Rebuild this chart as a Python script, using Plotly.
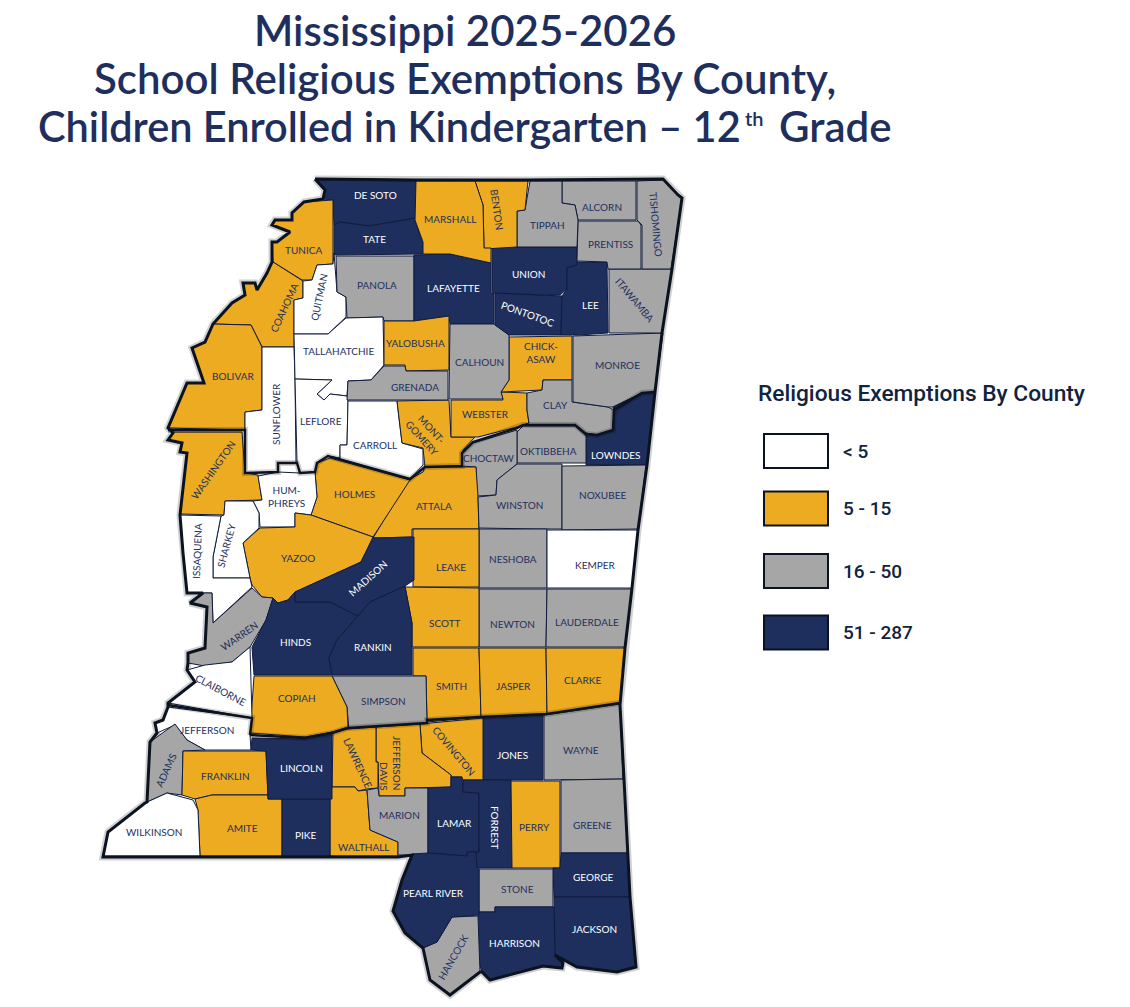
import plotly.graph_objects as go

# exemption classes, one list of counties per legend entry
LEGEND_TITLE = "Religious Exemptions By County"
LEGEND_LABELS = ["< 5", "5 - 15", "16 - 50", "51 - 287"]
BIN_COLORS = ["#FFFFFF", "#ECAB21", "#A6A6A6", "#1E2F5E"]

UNDER_5 = ["Quitman", "Tallahatchie", "Sunflower", "Leflore", "Carroll", "Humphreys", "Sharkey",
           "Issaquena", "Kemper", "Claiborne", "Jefferson", "Wilkinson"]
FROM_5 = ["Tunica", "Coahoma", "Bolivar", "Washington", "Marshall", "Benton", "Yalobusha", "Chickasaw",
          "Webster", "Montgomery", "Holmes", "Attala", "Yazoo", "Leake", "Scott", "Smith", "Jasper",
          "Clarke", "Copiah", "Covington", "Jefferson Davis", "Lawrence", "Walthall", "Franklin",
          "Amite", "Perry"]
FROM_16 = ["Tippah", "Alcorn", "Prentiss", "Tishomingo", "Panola", "Itawamba", "Calhoun", "Monroe",
           "Grenada", "Clay", "Choctaw", "Oktibbeha", "Winston", "Noxubee", "Neshoba", "Newton",
           "Lauderdale", "Warren", "Simpson", "Wayne", "Greene", "Marion", "Adams", "Stone", "Hancock"]
FROM_51 = ["De Soto", "Tate", "Lafayette", "Union", "Pontotoc", "Lee", "Lowndes", "Madison", "Hinds",
           "Rankin", "Lincoln", "Pike", "Jones", "Lamar", "Forrest", "George", "Pearl River",
           "Harrison", "Jackson"]

# county outlines
COUNTY_SHAPES = {
    "De Soto": [(315,180),(416,181),(416,218),(369,226),(340,222),(334,225),(333,200),(323,199),(325,190)],
    "Tate": [(334,225),(340,222),(369,226),(416,218),(415,221),(423,242),(423,254),(334,255)],
    "Tunica": [(333,200),(304,202),(292,213),(292,220),(275,220),(272,225),(290,232),(277,242),(272,242),
               (273,262),(302,280),(312,280),(317,265),(333,264)],
    "Coahoma": [(273,262),(302,280),(303,281),(303,298),(294,300),(294,347),(262,347),(251,325),(213,324),
                (232,303),(245,295),(243,283),(255,283),(257,290),(267,273)],
    "Bolivar": [(213,324),(251,325),(262,347),(262,410),(245,412),(245,430),(168,428),(187,383),(204,383),
                (192,348),(205,342)],
    "Washington": [(173,432),(242,432),(245,473),(258,475),(262,500),(225,501),(224,515),(180,514),(187,453),
                   (180,452),(182,443),(168,440)],
    "Sunflower": [(262,347),(294,347),(295,379),(296,463),(278,463),(278,472),(245,473),(245,412),(262,410)],
    "Quitman": [(317,265),(333,264),(334,253),(337,292),(346,297),(346,317),(328,334),(294,334),(294,300),
                (303,298),(303,281),(312,280)],
    "Panola": [(336,256),(414,256),(414,321),(384,321),(383,317),(347,318),(346,297),(337,292)],
    "Tallahatchie": [(294,334),(328,334),(346,318),(383,317),(384,365),(371,380),(348,381),(347,396),(330,394),
                     (324,400),(317,394),(332,380),(295,379)],
    "Leflore": [(295,379),(332,380),(317,394),(324,400),(330,394),(347,396),(348,400),(347,445),(340,445),
                (340,458),(328,456),(317,463),(315,472),(300,473),(297,463)],
    "Carroll": [(348,401),(397,401),(402,443),(423,449),(423,465),(410,479),(340,459),(340,445),(347,445)],
    "Montgomery": [(397,401),(449,400),(451,437),(475,437),(463,450),(462,466),(425,467),(423,448),(402,443)],
    "Webster": [(451,400),(503,400),(501,392),(527,393),(527,410),(529,423),(517,427),(478,437),(451,437)],
    "Chickasaw": [(509,337),(572,336),(572,380),(543,380),(542,390),(501,392),(509,380)],
    "Clay": [(527,393),(542,390),(543,380),(572,380),(572,402),(608,407),(614,410),(613,430),(597,435),
             (585,433),(575,425),(523,425),(529,423),(527,410)],
    "Monroe": [(573,336),(663,333),(655,392),(642,393),(613,407),(608,407),(573,402)],
    "Lowndes": [(655,392),(642,393),(613,407),(614,410),(613,430),(597,435),(586,433),(586,465),(647,465)],
    "Oktibbeha": [(517,432),(523,426),(575,426),(586,436),(586,463),(517,463)],
    "Choctaw": [(517,430),(473,443),(462,453),(462,466),(476,467),(477,496),(496,495),(497,480),(517,464)],
    "Attala": [(476,467),(478,497),(479,529),(412,529),(412,537),(373,538),(408,480),(423,472),(425,467)],
    "Winston": [(478,497),(496,495),(497,480),(517,464),(562,464),(562,529),(537,529),(479,528)],
    "Noxubee": [(562,466),(646,465),(638,529),(562,530)],
    "Neshoba": [(479,529),(547,529),(547,588),(479,588)],
    "Kemper": [(547,530),(638,530),(632,588),(547,588)],
    "Newton": [(479,589),(547,589),(546,647),(479,647)],
    "Lauderdale": [(547,589),(632,589),(625,647),(546,647)],
    "Leake": [(413,529),(479,529),(479,587),(413,587)],
    "Scott": [(405,587),(479,588),(479,647),(412,647),(412,623)],
    "Smith": [(413,648),(479,648),(481,717),(427,722),(426,676),(413,676)],
    "Jasper": [(479,648),(546,648),(547,715),(481,717)],
    "Clarke": [(546,648),(625,648),(620,703),(547,715)],
    "Simpson": [(332,676),(426,676),(427,723),(349,731),(347,707)],
    "Copiah": [(254,676),(332,676),(347,707),(348,727),(332,732),(305,737),(250,733)],
    "Jones": [(483,718),(543,715),(543,780),(483,780)],
    "Wayne": [(544,715),(620,704),(623,779),(544,780)],
    "Covington": [(420,724),(483,718),(483,780),(462,780),(462,777),(451,777),(451,775),(422,753)],
    "Jefferson Davis": [(376,727),(420,724),(422,753),(451,775),(451,787),(405,788),(405,796),(379,796),
                        (378,762),(376,762)],
    "Lawrence": [(333,732),(348,729),(376,727),(376,762),(378,762),(378,788),(367,789),(358,791),(355,787),(332,787)],
    "Walthall": [(330,787),(355,787),(358,791),(367,790),(370,830),(398,842),(398,856),(330,856)],
    "Marion": [(367,790),(378,788),(379,796),(405,796),(405,788),(428,788),(428,855),(398,855),(398,842),(370,830)],
    "Lamar": [(428,788),(451,787),(451,777),(462,777),(463,792),(479,793),(479,852),(467,852),(467,856),(428,853)],
    "Forrest": [(463,780),(511,780),(512,868),(477,868),(476,852),(479,852),(479,793),(463,792)],
    "Perry": [(511,781),(560,781),(560,868),(512,868)],
    "Greene": [(561,780),(624,779),(628,853),(561,853)],
    "George": [(561,853),(628,853),(630,897),(554,897),(553,868),(560,868)],
    "Stone": [(479,869),(553,869),(553,907),(495,907),(495,912),(479,912)],
    "Jackson": [(554,897),(630,897),(636,967),(617,972),(577,967),(555,955)],
    "Harrison": [(479,912),(495,912),(495,907),(554,907),(555,955),(563,963),(562,968),(543,966),(490,980),
                 (482,972),(478,960),(478,916)],
    "Hancock": [(452,917),(478,916),(480,972),(450,995),(430,980),(423,948),(437,942)],
    "Pearl River": [(412,854),(428,853),(467,856),(467,852),(476,852),(477,868),(479,869),(479,915),(452,917),
                    (437,942),(423,948),(405,933),(393,911),(402,880)],
    "Lafayette": [(414,255),(450,254),(491,263),(491,293),(494,293),(494,324),(450,324),(449,316),(414,321)],
    "Yalobusha": [(384,321),(414,321),(449,316),(449,370),(406,371),(405,365),(384,365)],
    "Grenada": [(384,366),(405,366),(406,371),(448,371),(448,400),(347,400),(348,381),(371,380)],
    "Calhoun": [(450,324),(494,324),(509,335),(509,380),(501,392),(503,399),(449,399)],
    "Pontotoc": [(495,293),(545,295),(562,296),(561,335),(509,335),(495,325)],
    "Union": [(492,247),(577,247),(577,265),(567,268),(567,289),(560,295),(545,295),(495,293),(492,292)],
    "Lee": [(567,268),(577,265),(577,262),(607,262),(608,333),(578,335),(561,335),(562,296),(567,289)],
    "Itawamba": [(609,269),(672,269),(662,333),(609,333)],
    "Prentiss": [(578,221),(638,221),(641,225),(641,269),(608,269),(607,262),(577,261)],
    "Tishomingo": [(637,181),(663,180),(678,195),(682,198),(671,269),(642,269),(642,225),(637,220)],
    "Alcorn": [(562,181),(636,181),(636,220),(578,220),(575,205),(562,203)],
    "Tippah": [(530,181),(562,181),(562,203),(575,205),(578,220),(577,247),(517,247),(517,211),(525,210)],
    "Benton": [(475,181),(528,181),(525,210),(517,211),(517,247),(492,248),(484,249),(483,205)],
    "Marshall": [(416,181),(475,181),(483,205),(484,248),(491,248),(491,263),(450,254),(423,254),(423,242),(415,220)],
    "Holmes": [(330,458),(410,480),(373,537),(311,515),(317,497),(315,472),(317,463)],
    "Humphreys": [(258,476),(278,472),(300,473),(315,472),(317,497),(311,515),(295,513),(295,527),(260,527),
                  (259,513),(253,501),(262,500)],
    "Yazoo": [(260,528),(295,527),(295,513),(311,515),(373,537),(361,562),(295,592),(288,600),(278,603),(273,598),
              (262,597),(252,585),(250,578),(243,543)],
    "Sharkey": [(225,501),(253,501),(259,513),(259,528),(243,543),(250,578),(213,578),(213,557),(221,516),(224,515)],
    "Issaquena": [(180,515),(221,516),(213,557),(213,578),(250,578),(252,587),(213,623),(212,593),(187,593),(183,553)],
    "Warren": [(252,588),(262,597),(273,598),(266,620),(250,647),(232,662),(205,666),(188,663),(188,653),(205,648),
               (207,607),(190,603),(203,593),(212,593),(213,623)],
    "Hinds": [(273,598),(278,603),(288,600),(295,592),(295,602),(330,602),(358,616),(337,640),(329,658),(332,675),
              (254,675),(252,647),(266,620)],
    "Madison": [(295,592),(361,562),(373,538),(414,537),(414,580),(405,586),(370,602),(358,616),(330,602),(295,602)],
    "Rankin": [(370,602),(405,586),(412,623),(412,675),(332,675),(329,658),(337,640),(358,616)],
    "Claiborne": [(187,670),(205,665),(232,662),(250,647),(252,718),(168,703),(195,682)],
    "Jefferson": [(168,707),(252,718),(250,735),(251,750),(205,750),(187,740),(175,725),(157,733),(155,723),(163,720)],
    "Adams": [(175,724),(187,740),(205,750),(183,751),(182,795),(167,793),(147,802),(150,742)],
    "Franklin": [(183,751),(266,751),(268,795),(212,795),(195,799),(182,795)],
    "Amite": [(195,799),(212,795),(268,795),(268,799),(282,799),(282,856),(200,856),(198,810)],
    "Wilkinson": [(167,793),(193,800),(198,810),(200,856),(103,856),(108,832),(145,803)],
    "Pike": [(282,799),(330,799),(330,856),(282,856)],
    "Lincoln": [(252,738),(305,739),(332,732),(332,799),(268,799),(266,751),(251,750)],
}

STATE_BORDER = [(315,179),(417,180),(528,180),(663,179),(678,195),(682,198),(672,269),(662,333),(655,392),(647,465),
                (638,530),(632,588),(625,648),(620,705),(624,779),(628,853),(630,897),(636,967),(617,972),(577,967),
                (555,955),(563,963),(562,968),(543,966),(490,980),(482,972),(480,972),(450,995),(430,980),(423,948),
                (405,933),(393,911),(402,880),(412,855),(398,857),(103,857),(108,832),(145,803),(147,802),(150,742),
                (157,733),(155,723),(163,720),(168,707),(168,703),(195,682),(187,670),(188,663),(188,653),(205,648),
                (207,607),(190,603),(203,593),(187,593),(183,553),(180,515),(187,453),(180,452),(182,443),(168,440),
                (173,433),(168,428),(187,383),(204,383),(192,348),(205,342),(213,324),(232,303),(245,295),(243,283),
                (255,283),(257,290),(267,273),(272,262),(272,242),(277,242),(290,232),(272,225),(275,220),(292,220),
                (292,213),(304,202),(323,199),(325,190),(315,179)]

# heavy inner lines of the original artwork
DELTA_LINE = [(168,430),(245,430),(245,473),(278,472),(278,463),(297,463),(300,473),(315,472),(317,463),(328,456),
              (410,479),(425,467),(462,466),(462,453),(473,442),(517,428),(523,425),(575,425),(586,434),(597,435),
              (613,430),(614,410),(642,393),(655,392)]
SOUTH_LINE = [(250,735),(305,738),(332,733),(348,728),(427,723),(427,720),(480,717),(547,714),(620,703)]
CLAIBORNE_LINE = [(168,705),(252,718),(250,735)]

# text, x, y, angle, county
COUNTY_LABELS = [
    ("DE SOTO",375,195,0,"De Soto"),("TATE",374,239,0,"Tate"),("TUNICA",303,250,0,"Tunica"),
    ("MARSHALL",450,219,0,"Marshall"),("BENTON",497,209,82,"Benton"),("TIPPAH",547,225,0,"Tippah"),
    ("ALCORN",602,207,0,"Alcorn"),("PRENTISS",610,244,0,"Prentiss"),("TISHOMINGO",656,224,85,"Tishomingo"),
    ("PANOLA",377,285,0,"Panola"),("LAFAYETTE",453,288,0,"Lafayette"),("UNION",528,274,0,"Union"),
    ("PONTOTOC",528,314,20,"Pontotoc"),("LEE",590,305,0,"Lee"),("ITAWAMBA",635,300,50,"Itawamba"),
    ("QUITMAN",319,297,-78,"Quitman"),("COAHOMA",284,308,-65,"Coahoma"),("TALLAHATCHIE",338,351,0,"Tallahatchie"),
    ("YALOBUSHA",415,343,0,"Yalobusha"),("CALHOUN",479,362,0,"Calhoun"),("CHICK-<br>ASAW",541,352,0,"Chickasaw"),
    ("MONROE",617,365,0,"Monroe"),("BOLIVAR",233,376,0,"Bolivar"),("SUNFLOWER",276,414,-90,"Sunflower"),
    ("LEFLORE",321,421,0,"Leflore"),("GRENADA",415,387,0,"Grenada"),("WEBSTER",485,414,0,"Webster"),
    ("CLAY",555,405,0,"Clay"),("MONT-<br>GOMERY",427,433,48,"Montgomery"),("CARROLL",375,445,0,"Carroll"),
    ("WASHINGTON",213,470,-55,"Washington"),("CHOCTAW",489,458,0,"Choctaw"),("OKTIBBEHA",548,451,0,"Oktibbeha"),
    ("LOWNDES",616,455,0,"Lowndes"),("HUM-<br>PHREYS",286,496,0,"Humphreys"),("HOLMES",354,494,0,"Holmes"),
    ("ATTALA",434,506,0,"Attala"),("WINSTON",519,505,0,"Winston"),("NOXUBEE",602,495,0,"Noxubee"),
    ("ISSAQUENA",197,551,-88,"Issaquena"),("SHARKEY",226,546,-75,"Sharkey"),("YAZOO",298,558,0,"Yazoo"),
    ("LEAKE",451,567,0,"Leake"),("NESHOBA",513,559,0,"Neshoba"),("KEMPER",595,565,0,"Kemper"),
    ("MADISON",368,578,-42,"Madison"),("WARREN",239,636,-35,"Warren"),("SCOTT",445,623,0,"Scott"),
    ("NEWTON",512,624,0,"Newton"),("LAUDERDALE",587,622,0,"Lauderdale"),("HINDS",295,642,0,"Hinds"),
    ("RANKIN",373,647,0,"Rankin"),("CLAIBORNE",221,690,28,"Claiborne"),("COPIAH",297,698,0,"Copiah"),
    ("SIMPSON",383,701,0,"Simpson"),("SMITH",451,686,0,"Smith"),("JASPER",513,686,0,"Jasper"),
    ("CLARKE",582,680,0,"Clarke"),("JEFFERSON",207,730,0,"Jefferson"),("LAWRENCE",358,763,65,"Lawrence"),
    ("JEFFERSON",397,763,90,"Jefferson Davis"),("DAVIS",384,776,90,"Jefferson Davis"),
    ("COVINGTON",454,751,50,"Covington"),("JONES",512,755,0,"Jones"),("WAYNE",581,750,0,"Wayne"),
    ("ADAMS",166,770,-65,"Adams"),("FRANKLIN",225,776,0,"Franklin"),("LINCOLN",301,768,0,"Lincoln"),
    ("MARION",399,815,0,"Marion"),("LAMAR",454,823,0,"Lamar"),("FORREST",495,827,90,"Forrest"),
    ("PERRY",534,827,0,"Perry"),("GREENE",592,825,0,"Greene"),("AMITE",242,828,0,"Amite"),("PIKE",305,835,0,"Pike"),
    ("WALTHALL",363,847,0,"Walthall"),("WILKINSON",154,832,0,"Wilkinson"),("STONE",517,889,0,"Stone"),
    ("GEORGE",593,877,0,"George"),("PEARL RIVER",433,893,0,"Pearl River"),("HARRISON",514,943,0,"Harrison"),
    ("JACKSON",594,929,0,"Jackson"),("HANCOCK",453,957,-60,"Hancock"),
]

TITLE_LINE_1 = "Mississippi 2025-2026"
TITLE_LINE_2 = "School Religious Exemptions By County,"
TITLE_LINE_3A = "Children Enrolled in Kindergarten – 12"
TITLE_LINE_3B = "th"
TITLE_LINE_3C = "Grade"

NAVY = "#1E2F5E"
INK = "#10233F"
COUNTY_EDGE = "#101B3E"

bins = [UNDER_5, FROM_5, FROM_16, FROM_51]
county_color = {}
for names, color in zip(bins, BIN_COLORS):
    for name in names:
        county_color[name] = color


def xs(points):
    return [p[0] for p in points]


def ys(points):
    return [p[1] for p in points]


fig = go.Figure()

# soft shadow, then fills, then the heavy lines
fig.add_trace(go.Scatter(x=xs(STATE_BORDER), y=ys(STATE_BORDER), mode="lines",
                         line=dict(color="rgba(0,0,0,0.18)", width=7), hoverinfo="skip"))
for name, shape in COUNTY_SHAPES.items():
    closed = shape + shape[:1]
    fig.add_trace(go.Scatter(x=xs(closed), y=ys(closed), mode="lines", fill="toself",
                             fillcolor=county_color[name], line=dict(color=COUNTY_EDGE, width=1),
                             name=name, hoverinfo="name"))
for line in [DELTA_LINE, SOUTH_LINE, CLAIBORNE_LINE]:
    fig.add_trace(go.Scatter(x=xs(line), y=ys(line), mode="lines",
                             line=dict(color="rgba(0,0,0,0.18)", width=6), hoverinfo="skip"))
    fig.add_trace(go.Scatter(x=xs(line), y=ys(line), mode="lines",
                             line=dict(color="#0B1220", width=2.5), hoverinfo="skip"))
fig.add_trace(go.Scatter(x=xs(STATE_BORDER), y=ys(STATE_BORDER), mode="lines",
                         line=dict(color="#0B1220", width=3), hoverinfo="skip"))

annotations = []
for text, x, y, angle, county in COUNTY_LABELS:
    color = "#FFFFFF" if county in FROM_51 else NAVY
    annotations.append(dict(x=x, y=y, text=text, textangle=angle, showarrow=False,
                            xanchor="center", yanchor="middle",
                            font=dict(family="Lato", size=10, color=color)))

title_font = dict(family="Lato", size=42, color=NAVY, weight=600)
annotations.append(dict(x=465, y=30, text=TITLE_LINE_1, showarrow=False, font=title_font))
annotations.append(dict(x=465, y=78, text=TITLE_LINE_2, showarrow=False, font=title_font))
annotations.append(dict(x=743, y=126, text=TITLE_LINE_3A, showarrow=False, xanchor="right",
                        font=dict(family="Lato", size=41.5, color=NAVY, weight=600)))
annotations.append(dict(x=743, y=118, text=TITLE_LINE_3B, showarrow=False, xanchor="left",
                        font=dict(family="Lato", size=20, color=NAVY, weight=600)))
annotations.append(dict(x=777, y=126, text=TITLE_LINE_3C, showarrow=False, xanchor="left", font=title_font))

annotations.append(dict(x=756, y=393, text=LEGEND_TITLE, showarrow=False, xanchor="left", yanchor="middle",
                        font=dict(family="Roboto", size=22.7, color=INK, weight=500)))

# legend swatches
shapes = []
for label, color, y in zip(LEGEND_LABELS, BIN_COLORS, [451, 508.5, 571, 632.5]):
    shapes.append(dict(type="rect", x0=764, x1=828, y0=y - 17, y1=y + 17, fillcolor=color,
                       line=dict(color="#0B1220", width=2)))
    annotations.append(dict(x=841, y=y, text=label, showarrow=False, xanchor="left", yanchor="middle",
                            font=dict(family="Roboto", size=19, color=INK, weight=500)))

fig.update_layout(
    width=1130, height=1007, margin=dict(l=0, r=0, t=0, b=0),
    paper_bgcolor="white", plot_bgcolor="white", showlegend=False,
    xaxis=dict(range=[0, 1130], visible=False, fixedrange=True),
    yaxis=dict(range=[1007, 0], visible=False, fixedrange=True),
    annotations=annotations, shapes=shapes,
)

fig.write_html("out.html", config=dict(displayModeBar=False),
               post_script="document.body.style.margin='0';document.body.style.overflow='hidden';")
